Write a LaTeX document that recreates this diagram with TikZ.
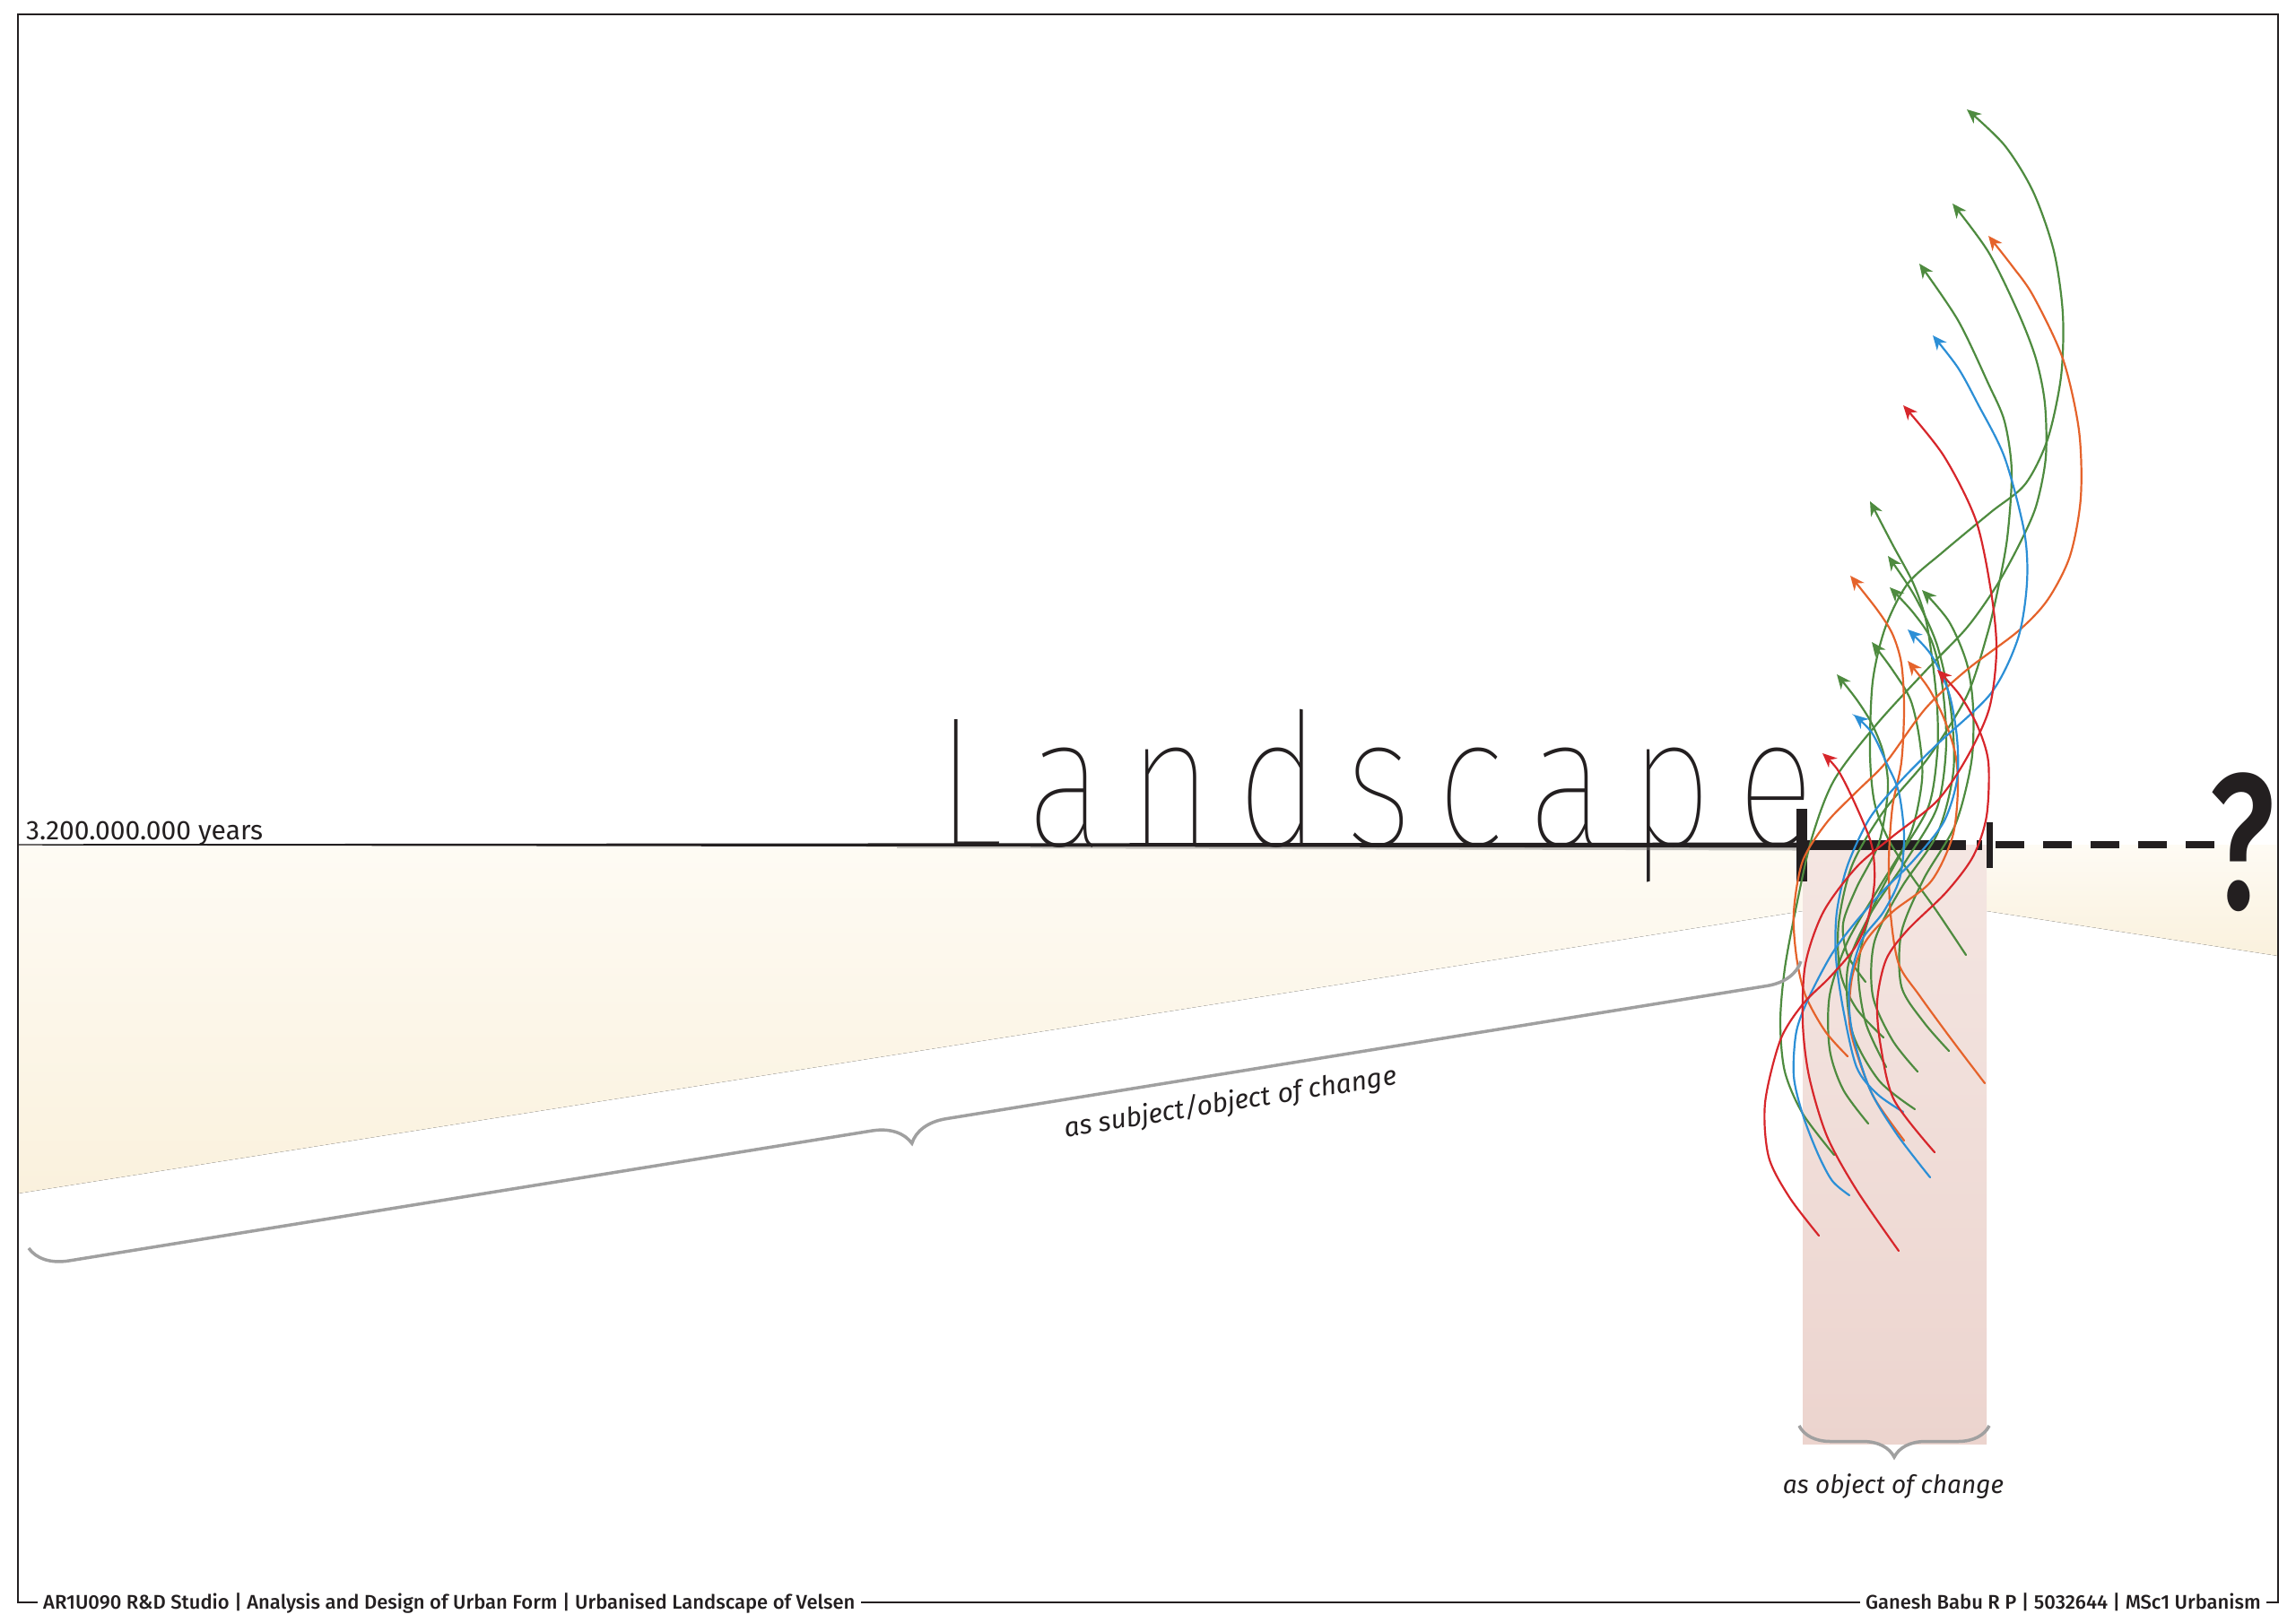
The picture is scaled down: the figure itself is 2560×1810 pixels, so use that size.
\documentclass[tikz,border=0pt]{standalone}
\usepackage{graphicx}
\usepackage{fontspec}
\setmainfont{Fira Sans}
\newif\iflandfound
\newif\ifmedfound
\newcommand\trylandfont[1]{\iflandfound\else\IfFontExistsTF{#1}{\newfontfamily\landfont{#1}\landfoundtrue}{}\fi}
\newcommand\trymedfont[1]{\ifmedfound\else\IfFontExistsTF{#1}{\newfontfamily\medfont{#1}\medfoundtrue}{}\fi}
\trylandfont{FiraSans-Thin.otf}
\trylandfont{FiraSans-Thin.ttf}
\trylandfont{Fira Sans Thin}
\trylandfont{FiraSans-ExtraLight.otf}
\trylandfont{FiraSans-ExtraLight.ttf}
\trylandfont{Fira Sans ExtraLight}
\trylandfont{FiraSans-Light.otf}
\trylandfont{FiraSans-Light.ttf}
\trylandfont{Fira Sans Light}
\trymedfont{FiraSans-Medium.otf}
\trymedfont{FiraSans-Medium.ttf}
\trymedfont{Fira Sans Medium}
\ifmedfound\else\newfontfamily\medfont{Fira Sans}\fi
\usetikzlibrary{arrows.meta,decorations.pathreplacing}
\definecolor{ink}{HTML}{231F20}
\definecolor{cgreen}{HTML}{4E8B3F}
\definecolor{cred}{HTML}{D7262B}
\definecolor{corange}{HTML}{E5632B}
\definecolor{cblue}{HTML}{2C8FD6}
\definecolor{creamtop}{HTML}{FEFBF4}
\definecolor{creambot}{HTML}{FAF1DD}
\definecolor{pinktop}{HTML}{F4E6E2}
\definecolor{pinkbot}{HTML}{ECD4CE}
\definecolor{bracegray}{HTML}{A0A0A0}
\newcommand\landgap{\kern35.5pt}
\newcommand\landword{L\landgap a\landgap n\landgap d\landgap s\landgap c\landgap a\landgap p\landgap e}
\tikzset{
  flow/.style={line width=2.2pt, line cap=round, -{Stealth[length=16pt,width=14pt,inset=5pt]}},
  bracegrey/.style={draw=bracegray, line width=3.5pt, decorate, decoration={brace, amplitude=#1, mirror}},
  foot/.style={fill=white, inner xsep=6pt, inner ysep=2pt, text=ink, font=\medfont\fontsize{22}{26}\selectfont},
  dashpiece/.style={fill=ink},
  bigword/.style={anchor=base west, inner sep=0pt},
}
\begin{document}
\begin{tikzpicture}[x=1pt,y=-1pt]
\useasboundingbox (0,0) rectangle (2560,1810);
\fill[white] (0,0) rectangle (2560,1810);

% cream bands
\fill[top color=creamtop, bottom color=creambot] (20,942) -- (2010,942) -- (2010,1016) -- (20,1331) -- cycle;
\fill[top color=creamtop, bottom color=creambot] (2215,942) -- (2540,942) -- (2540,1066) -- (2215,1016) -- cycle;
% pink rectangle
\fill[top color=pinktop, bottom color=pinkbot] (2010,942) rectangle (2215,1610);

% big word
\iflandfound
\node[bigword, text=ink] (land) at (1044,943)
  {\scalebox{0.78}[1]{\landfont\fontsize{207}{207}\selectfont\landword}};
\else
\node[bigword, text=ink] (land) at (1044,943)
  {\scalebox{0.78}[1]{\fontsize{207}{207}\selectfont\landword}};
\node[bigword, text=white] (landthin) at (1044,943)
  {\special{pdf:literal direct 1 Tr 11 w 1 j}\scalebox{0.78}[1]{\fontsize{207}{207}\selectfont\landword}\special{pdf:literal direct 0 Tr}};
\fi

% timeline
\fill[ink] (20,941.3) -- (2003,939.6) -- (2003,945.4) -- (20,942.7) -- cycle;
\fill[ink!60, opacity=0.45] (1000,944.5) -- (2003,945) -- (2003,948.5) -- (1000,945.8) -- cycle;
\fill[ink] (2003,902) rectangle (2015,983);
\fill[ink] (2015,937) rectangle (2192,948);
\fill[ink] (2204,937) rectangle (2210,948);
\fill[ink] (2215,917) rectangle (2222,968);
\foreach \k in {0,...,4}{\fill[dashpiece] ({2225+53*\k},938) rectangle ({2257+53*\k},946);}

\node[anchor=base, inner sep=0pt, text=ink] (qm) at (2500,1013)
  {\scalebox{0.72}[1]{\medfont\fontsize{215}{215}\selectfont ?}};
\node[anchor=base west, inner sep=0pt, text=ink, font=\fontsize{30}{35}\selectfont] (yrs) at (29,936) {3.200.000.000 years};

% flows (tail -> head)
\draw[flow, cgreen] plot[smooth] coordinates {(2192,1065) (2160,1017) (2130,975) (2105,935) (2090,895) (2085,840) (2088,760) (2102,700) (2127,651) (2167,615) (2220,571) (2258,540) (2283,490) (2298,420) (2300,350) (2290,280) (2267,214) (2235,162) (2193,122)};
\draw[flow, cgreen] plot[smooth] coordinates {(2045,1288) (2010,1242) (1990,1195) (1985,1140) (1990,1080) (2003,1010) (2020,935) (2045,870) (2093,807) (2150,745) (2193,700) (2225,655) (2250,610) (2270,565) (2281,510) (2280,450) (2270,400) (2250,348) (2217,281) (2177,227)};
\draw[flow, cgreen] plot[smooth] coordinates {(2100,1157) (2070,1125) (2052,1085) (2050,1030) (2065,965) (2100,905) (2150,845) (2193,776) (2215,710) (2227,660) (2238,600) (2243,526) (2235,470) (2217,428) (2183,357) (2140,294)};
\draw[flow, cgreen] plot[smooth] coordinates {(2103,1190) (2080,1140) (2072,1080) (2085,1020) (2115,960) (2150,900) (2160,840) (2160,790) (2155,740) (2147,690) (2133,650) (2110,607) (2085,559)};
\draw[flow, cgreen] plot[smooth] coordinates {(2138,1195) (2110,1160) (2088,1110) (2090,1050) (2120,990) (2160,930) (2178,860) (2175,790) (2160,720) (2135,665) (2105,620)};
\draw[flow, cgreen] plot[smooth] coordinates {(2135,1237) (2095,1205) (2065,1150) (2060,1080) (2085,1020) (2125,960) (2160,900) (2170,830) (2165,760) (2153,713) (2133,683) (2107,655)};
\draw[flow, cgreen] plot[smooth] coordinates {(2173,1172) (2145,1140) (2120,1100) (2120,1040) (2145,980) (2180,920) (2198,850) (2200,790) (2193,740) (2173,693) (2143,658)};
\draw[flow, cgreen] plot[smooth] coordinates {(2083,1253) (2055,1215) (2040,1170) (2040,1110) (2060,1050) (2095,990) (2130,930) (2143,870) (2140,823) (2130,780) (2110,747) (2087,716)};
\draw[flow, cgreen] plot[smooth] coordinates {(2080,1095) (2060,1065) (2055,1030) (2070,990) (2095,940) (2105,880) (2100,840) (2087,807) (2070,780) (2048,752)};

\draw[flow, corange] plot[smooth] coordinates {(2060,1178) (2035,1150) (2013,1110) (2003,1067) (2000,1017) (2010,960) (2037,917) (2070,883) (2103,850) (2147,790) (2193,747) (2250,704) (2283,669) (2308,620) (2320,555) (2318,480) (2300,400) (2267,330) (2243,296) (2217,263)};
\draw[flow, corange] plot[smooth] coordinates {(2213,1208) (2175,1158) (2140,1110) (2117,1075) (2108,1020) (2106,960) (2110,900) (2120,850) (2123,790) (2120,740) (2110,707) (2093,680) (2063,642)};
\draw[flow, corange] plot[smooth] coordinates {(2123,1272) (2090,1225) (2072,1180) (2062,1140) (2065,1090) (2080,1050) (2110,1017) (2153,983) (2177,933) (2183,880) (2180,840) (2167,800) (2150,767) (2127,737)};

\draw[flow, cblue] plot[smooth] coordinates {(2122,1240) (2093,1220) (2070,1190) (2055,1125) (2047,1067) (2048,1017) (2060,965) (2085,912) (2120,870) (2160,830) (2220,773) (2250,712) (2260,650) (2257,593) (2235,510) (2205,450) (2183,410) (2155,374)};
\draw[flow, cblue] plot[smooth] coordinates {(2062,1333) (2043,1317) (2027,1287) (2010,1243) (2000,1200) (2003,1150) (2018,1110) (2043,1063) (2070,1027) (2100,993) (2133,960) (2167,917) (2182,870) (2182,823) (2173,773) (2153,730) (2127,702)};
\draw[flow, cblue] plot[smooth] coordinates {(2152,1313) (2115,1265) (2085,1215) (2065,1150) (2062,1100) (2075,1050) (2100,1017) (2118,980) (2123,933) (2117,883) (2103,850) (2087,817) (2067,797)};

\draw[flow, cred] plot[smooth] coordinates {(2117,1395) (2070,1327) (2037,1267) (2017,1200) (2010,1140) (2013,1075) (2033,1017) (2070,967) (2110,933) (2160,893) (2193,845) (2218,790) (2226,725) (2220,660) (2203,580) (2167,508) (2122,452)};
\draw[flow, cred] plot[smooth] coordinates {(2157,1285) (2112,1227) (2097,1167) (2093,1117) (2103,1070) (2127,1037) (2170,995) (2200,955) (2215,910) (2217,850) (2205,810) (2185,775) (2160,747)};
\draw[flow, cred] plot[smooth] coordinates {(2028,1378) (1995,1335) (1972,1290) (1968,1230) (1985,1160) (2010,1120) (2040,1090) (2068,1057) (2083,1023) (2090,983) (2087,943) (2070,900) (2050,860) (2032,840)};

% braces and labels
\coordinate (bl) at (32,1392);
\coordinate (br) at (2008,1072);
\draw[bracegrey=42, decoration={aspect=0.495}] (bl) -- (br);
\node[rotate=9, inner sep=0pt, text=ink, font=\itshape\fontsize{30}{36}\selectfont] (subj) at (1372,1230) {as subject/object of change};
\coordinate (pl) at (2006,1590);
\coordinate (pr) at (2218,1590);
\draw[bracegrey=35] (pl) -- (pr);
\node[anchor=base, inner sep=0pt, text=ink, font=\itshape\fontsize{28}{34}\selectfont] (obj) at (2111,1665) {as object of change};

% frame and footer
\draw[ink, line width=2pt] (20,1787) -- (20,16) -- (2540,16) -- (2540,1787) -- cycle;
\node[foot, anchor=base west] (footl) at (42,1794) {AR1U090 R\&D Studio | Analysis and Design of Urban Form | Urbanised Landscape of Velsen};
\node[foot, anchor=base east] (footr) at (2527,1794) {Ganesh Babu R P | 5032644 | MSc1 Urbanism};
\end{tikzpicture}
\end{document}
